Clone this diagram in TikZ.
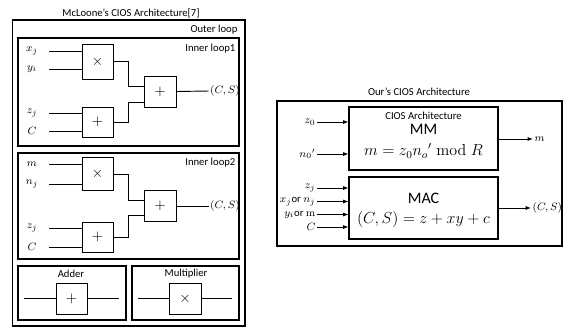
\documentclass[tikz,border=0pt]{standalone}
\usepackage[no-math]{fontspec}
\setmainfont{Carlito}
\usetikzlibrary{arrows.meta}
\tikzset{
  frame/.style={draw, line width=0.8pt},
  opbox/.style={draw, line width=0.7pt, inner sep=0pt, font=\fontsize{11}{12}\selectfont},
  wire/.style={line width=0.7pt},
  arr/.style={line width=0.7pt, -{Latex[length=4pt,width=3pt]}},
  lbl/.style={font=\fontsize{8}{9}\selectfont, inner sep=1pt},
  mlbl/.style={font=\fontsize{8}{9}\selectfont, inner sep=1pt},
  big/.style={font=\fontsize{12}{13}\selectfont, inner sep=0pt},
}
\begin{document}
\begin{tikzpicture}[x=0.75pt,y=-0.75pt]
\useasboundingbox[fill=white] (0,0) rectangle (563,329);

% ---------- Left: McLoone ----------
\node[lbl] (t1) at (131,13) {McLoone's CIOS Architecture[7]};
\draw[frame] (12.7,20) rectangle (245,326);
\node[lbl, anchor=east] (ol) at (239,30) {Outer loop};

% Inner loop 1
\draw[frame] (18,38) rectangle (239,146);
\node[lbl, anchor=east] (il1) at (237,49) {Inner loop1};
\node[opbox, minimum width={31*0.75pt}, minimum height={35*0.75pt}] (m1) at (97.5,61.5) {$\times$};
\node[opbox, minimum width={31*0.75pt}, minimum height={30*0.75pt}] (a1) at (97.5,122) {$+$};
\node[opbox, minimum width={32*0.75pt}, minimum height={31*0.75pt}] (b1) at (160,91.5) {$+$};
\node[mlbl] (x1) at (32,51) {$x_j$};
\node[mlbl] (y1) at (32,69) {$y_i$};
\node[mlbl] (z1) at (32,113) {$z_j$};
\node[mlbl] (c1) at (32,131) {$C$};
\coordinate (x1e) at (49,51);
\coordinate (y1e) at (49,69);
\coordinate (z1e) at (49,113);
\coordinate (c1e) at (49,131);
\draw[wire] (x1e) -- (m1.west|-x1e);
\draw[wire] (y1e) -- (m1.west|-y1e);
\draw[wire] (z1e) -- (a1.west|-z1e);
\draw[wire] (c1e) -- (a1.west|-c1e);
\draw[wire] (m1.east) -- (128,61.5) |- (b1.west|-0,86);
\draw[wire] (a1.east) -- (128,122) |- (b1.west|-0,102);
\node[mlbl] (o1) at (225,91) {$(C,S)$};
\draw[wire] (b1.east) -- (o1.west);

% Inner loop 2
\draw[frame] (18,153) rectangle (239,259);
\node[lbl, anchor=east] (il2) at (237,163) {Inner loop2};
\node[opbox, minimum width={31*0.75pt}, minimum height={33*0.75pt}] (m2) at (97.5,174) {$\times$};
\node[opbox, minimum width={31*0.75pt}, minimum height={30*0.75pt}] (a2) at (97.5,237) {$+$};
\node[opbox, minimum width={32*0.75pt}, minimum height={31*0.75pt}] (b2) at (160,206) {$+$};
\node[mlbl] (x2) at (32,164) {$m$};
\node[mlbl] (y2) at (32,184) {$n_j$};
\node[mlbl] (z2) at (32,228) {$z_j$};
\node[mlbl] (c2) at (32,247) {$C$};
\coordinate (x2e) at (49,164);
\coordinate (y2e) at (49,184);
\coordinate (z2e) at (49,228);
\coordinate (c2e) at (49,247);
\draw[wire] (x2e) -- (m2.west|-x2e);
\draw[wire] (y2e) -- (m2.west|-y2e);
\draw[wire] (z2e) -- (a2.west|-z2e);
\draw[wire] (c2e) -- (a2.west|-c2e);
\draw[wire] (m2.east) -- (128,174) |- (b2.west|-0,200);
\draw[wire] (a2.east) -- (128,237) |- (b2.west|-0,215);
\node[mlbl] (o2) at (225,206) {$(C,S)$};
\draw[wire] (b2.east) -- (o2.west);

% Adder / Multiplier
\draw[frame] (18,266) rectangle (126,320);
\node[lbl] (adl) at (71,274) {Adder};
\node[opbox, minimum width={31*0.75pt}, minimum height={31*0.75pt}] (ad) at (71.5,298.5) {$+$};
\coordinate (adi) at (24,298.5);
\coordinate (ado) at (119,298.5);
\draw[wire] (adi) -- (ad.west);
\draw[wire] (ad.east) -- (ado);

\draw[frame] (132,266) rectangle (239,320);
\node[lbl] (mul) at (186,274) {Multiplier};
\node[opbox, minimum width={32*0.75pt}, minimum height={31*0.75pt}] (mu) at (185,298.5) {$\times$};
\coordinate (mui) at (138,298.5);
\coordinate (muo) at (232,298.5);
\draw[wire] (mui) -- (mu.west);
\draw[wire] (mu.east) -- (muo);

% ---------- Right: Ours ----------
\node[lbl] (t2) at (419,92) {Our's CIOS Architecture};
\draw[frame] (277,101) rectangle (562,246);

\node[draw, line width=0.8pt, minimum width={149*0.75pt}, minimum height={63*0.75pt}] (mm) at (423.5,138.5) {};
\node[font=\fontsize{8}{9}\selectfont, inner sep=0pt] (mmt) at (423.5,116) {CIOS Architecture};
\node[big] (mmn) at (423.5,129.5) {MM};
\node[big] (mmf) at (423.5,151) {$m = z_0 {n_o}' \bmod R$};

\node[draw, line width=0.8pt, minimum width={149*0.75pt}, minimum height={62*0.75pt}] (mac) at (423.5,208) {};
\node[big] (macn) at (423.5,198) {MAC};
\node[big] (macf) at (423.5,219.5) {$(C,S) = z + xy + c$};

% MM inputs
\node[mlbl, anchor=east] (iz0) at (317,122) {$z_0$};
\node[mlbl, anchor=east] (in0) at (317,154) {${n_0}'$};
\draw[arr] (iz0.east) -- (mm.west|-iz0.east);
\draw[arr] (in0.east) -- (mm.west|-in0.east);
\node[mlbl, anchor=west] (om) at (533,139) {$m$};
\draw[arr] (mm.east|-om.west) -- (om.west);

% MAC inputs
\node[mlbl, anchor=east] (izj) at (317,188) {$z_j$};
\node[mlbl, anchor=east] (ixj) at (317,201.5) {$x_j$or $n_j$};
\node[mlbl, anchor=east] (iyi) at (317,214.5) {$y_i$or $\mathrm{m}$};
\node[mlbl, anchor=east] (ic) at (317,227) {$C$};
\draw[arr] (izj.east) -- (mac.west|-izj.east);
\draw[arr] (ixj.east) -- (mac.west|-ixj.east);
\draw[arr] (iyi.east) -- (mac.west|-iyi.east);
\draw[arr] (ic.east) -- (mac.west|-ic.east);
\node[mlbl, anchor=west] (ocs) at (531,208) {$(C,S)$};
\draw[arr] (mac.east|-ocs.west) -- (ocs.west);
\end{tikzpicture}
\end{document}
